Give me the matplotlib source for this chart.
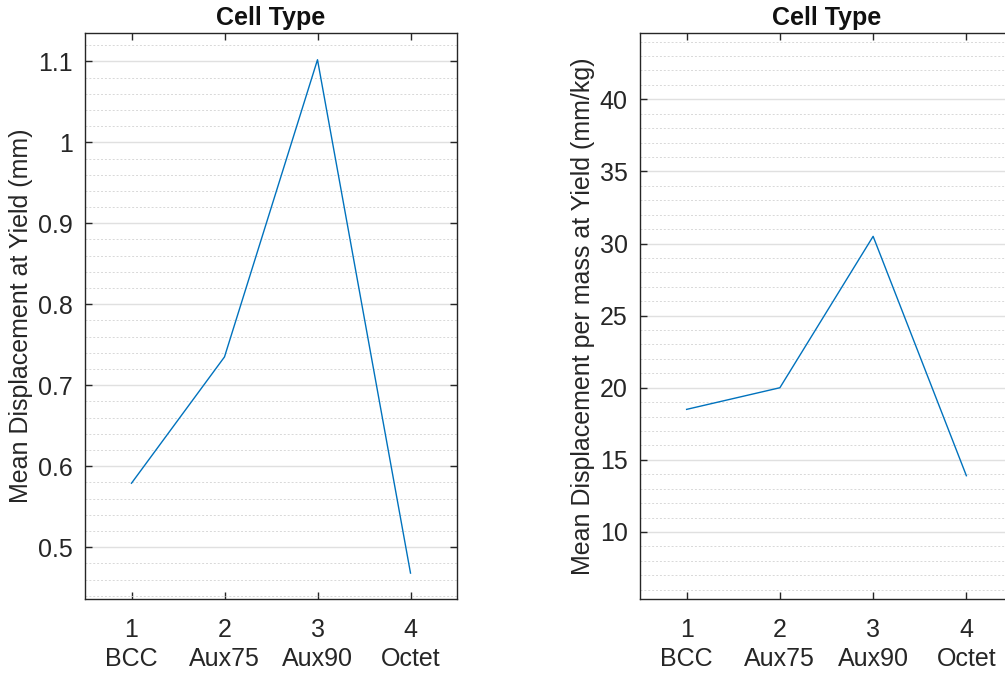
import numpy as np
import matplotlib
matplotlib.use("Agg")
import matplotlib.pyplot as plt
from matplotlib.ticker import MultipleLocator

plt.rcParams["font.family"] = ["Liberation Sans", "DejaVu Sans"]

# ------------------------------------------------------------
# Data
# ------------------------------------------------------------
cell_pos = [1, 2, 3, 4]
cell_types = ["BCC", "Aux75", "Aux90", "Octet"]
disp_yield = [0.579, 0.735, 1.102, 0.468]        # mm
disp_per_mass = [18.5, 20.0, 30.5, 13.9]         # mm/kg

AX_COL = "#262626"
LINE_COL = "#0072BD"
FS = 18

fig = plt.figure(figsize=(10.05, 6.74), dpi=100)
W, H = 1005.0, 674.0


def matlab_axes(rect_px, y, ylim, major, minor, ylabel):
    x0, y0, x1, y1 = rect_px
    ax = fig.add_axes([x0 / W, 1 - y1 / H, (x1 - x0) / W, (y1 - y0) / H])
    ax.plot(cell_pos, y, color=LINE_COL, lw=1.0)
    ax.set_xlim(0.5, 4.5)
    ax.set_ylim(*ylim)
    ax.set_xticks(cell_pos)
    ax.set_xticklabels([f"{p}\n{c}" for p, c in zip(cell_pos, cell_types)],
                       linespacing=1.25)
    ax.yaxis.set_major_locator(MultipleLocator(major))
    ax.yaxis.set_minor_locator(MultipleLocator(minor))
    ax.grid(axis="y", which="major", color="#e0e0e0", lw=1.0, ls="-")
    ax.grid(axis="y", which="minor", color="#d8d8d8", lw=0.7, ls=(0, (2, 2)))
    ax.set_axisbelow(True)
    ax.tick_params(which="major", direction="in", length=5, width=1,
                   color=AX_COL, labelcolor=AX_COL, labelsize=FS,
                   top=True, right=True, pad=9)
    ax.tick_params(axis="x", pad=14)
    ax.tick_params(which="minor", length=0)
    for s in ax.spines.values():
        s.set_color(AX_COL)
        s.set_linewidth(1.0)
    ax.set_title("Cell Type", fontsize=FS, fontweight="bold", color="#111111", pad=6)
    ax.set_ylabel(ylabel, fontsize=FS, color=AX_COL, labelpad=3)
    return ax


ax1 = matlab_axes((85, 33, 457, 599), disp_yield, (0.436, 1.135), 0.1, 0.02,
                  "Mean Displacement at Yield (mm)")
ax1.yaxis.set_major_formatter(plt.FuncFormatter(lambda v, p: f"{v:g}"))

ax2 = matlab_axes((640, 33, 1013, 599), disp_per_mass, (5.35, 44.6), 5, 1,
                  "Mean Displacement per mass at Yield (mm/kg)")

fig.savefig("out.png", dpi=100)
